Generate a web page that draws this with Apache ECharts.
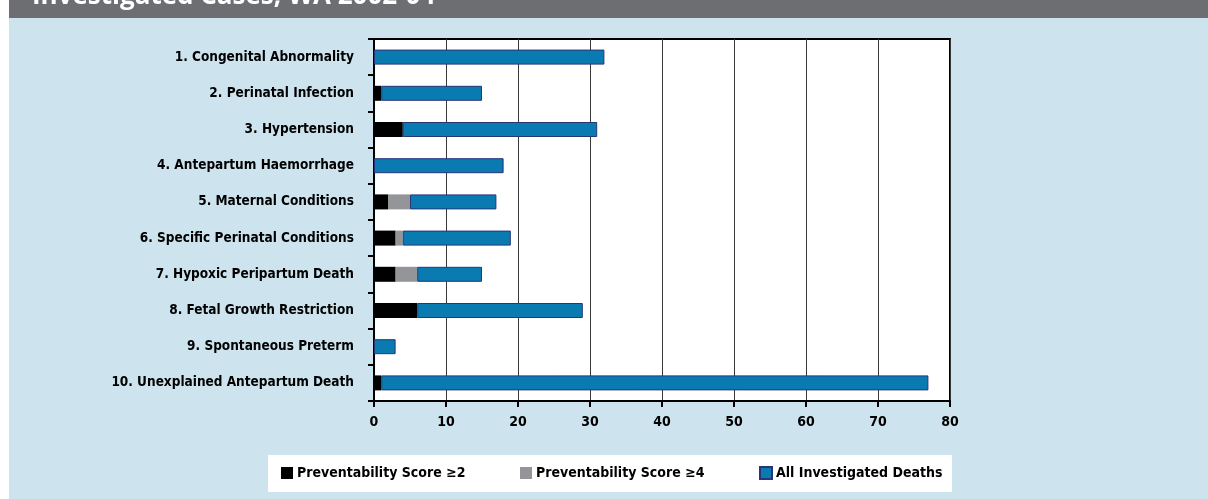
<!DOCTYPE html>
<html>
<head>
<meta charset="utf-8">
<script src="https://cdn.jsdelivr.net/npm/echarts@6/dist/echarts.min.js"></script>
<style>
  html, body { margin: 0; padding: 0; background: #ffffff; }
  #chart { width: 1208px; height: 499px; }
</style>
</head>
<body>
<div id="chart"></div>
<script>
// Causes of perinatal death, investigated cases
const categories = [
  '1. Congenital Abnormality',
  '2. Perinatal Infection',
  '3. Hypertension',
  '4. Antepartum Haemorrhage',
  '5. Maternal Conditions',
  '6. Specific Perinatal Conditions',
  '7. Hypoxic Peripartum Death',
  '8. Fetal Growth Restriction',
  '9. Spontaneous Preterm',
  '10. Unexplained Antepartum Death'
];

// Stacked segments, in deaths
const scoreAtLeast2 = [0, 1, 4, 0, 2, 3, 3, 6, 0, 1];
const scoreAtLeast4 = [0, 0, 0, 0, 3, 1, 3, 0, 0, 0];
const remainingDeaths = [32, 14, 27, 18, 12, 15, 9, 23, 3, 76];

const xTicks = { min: 0, max: 80, interval: 10 };

const seriesNames = ['Preventability Score \u22652', 'Preventability Score \u22654', 'All Investigated Deaths'];
const seriesColors = ['#000000', '#939598', '#0a7bb0'];
const seriesBorders = ['#000000', '#939598', '#27357a'];

const FONT = '"DejaVu Sans Condensed", "DejaVu Sans", sans-serif';

const chart = echarts.init(document.getElementById('chart'), null, { renderer: 'canvas' });

const values = [scoreAtLeast2, scoreAtLeast4, remainingDeaths];

const legendLefts = [281, 520, 759];

chart.setOption({
  backgroundColor: '#cde4ee',
  animation: false,
  graphic: [
    { type: 'rect', left: 0, top: 0, shape: { width: 9, height: 499 }, style: { fill: '#ffffff' }, z: 0 },
    { type: 'rect', left: 9, top: 0, shape: { width: 1199, height: 18 }, style: { fill: '#6d6e71' }, z: 0 },
    {
      type: 'text', x: 32, y: 10, z: 1,
      style: {
        text: 'Investigated Cases, WA 2002-04',
        fill: '#ffffff',
        font: 'bold 26px "Open Sans", sans-serif',
        verticalAlign: 'bottom'
      }
    },
    { type: 'rect', left: 268, top: 455, shape: { width: 684, height: 37 }, style: { fill: '#ffffff' }, z: 0 }
  ],
  grid: {
    left: 374, right: 258, top: 39, bottom: 98,
    show: true,
    backgroundColor: '#ffffff',
    borderColor: '#000000',
    borderWidth: 2
  },
  legend: seriesNames.map((name, i) => ({
    data: [name],
    left: legendLefts[i],
    top: 466,
    itemWidth: 12,
    itemHeight: 12,
    itemGap: 5,
    padding: 0,
    icon: 'rect',
    selectedMode: false,
    textStyle: { fontFamily: FONT, fontWeight: 'bold', fontSize: 14, color: '#000000', padding: [0, 0, 0, -1] }
  })),
  xAxis: {
    type: 'value',
    min: xTicks.min,
    max: xTicks.max,
    interval: xTicks.interval,
    axisLine: { show: true, lineStyle: { color: '#000000', width: 2 } },
    axisTick: { show: true, length: 6, lineStyle: { color: '#000000', width: 2 } },
    axisLabel: { fontFamily: FONT, fontWeight: 'bold', fontSize: 14, color: '#000000', margin: 14 },
    splitLine: { show: true, lineStyle: { color: '#3a3a3a', width: 1 } }
  },
  yAxis: {
    type: 'category',
    data: categories,
    inverse: true,
    axisLine: { show: true, lineStyle: { color: '#000000', width: 2 } },
    axisTick: { show: true, length: 6, lineStyle: { color: '#000000', width: 2 } },
    axisLabel: { fontFamily: FONT, fontWeight: 'bold', fontSize: 13.5, color: '#000000', margin: 20 }
  },
  series: seriesNames.map((name, i) => ({
    name: name,
    type: 'bar',
    stack: 'deaths',
    barWidth: 15,
    data: values[i],
    itemStyle: {
      color: seriesColors[i],
      borderColor: seriesBorders[i],
      borderWidth: i === 2 ? 1 : 0
    }
  }))
});
</script>
</body>
</html>
